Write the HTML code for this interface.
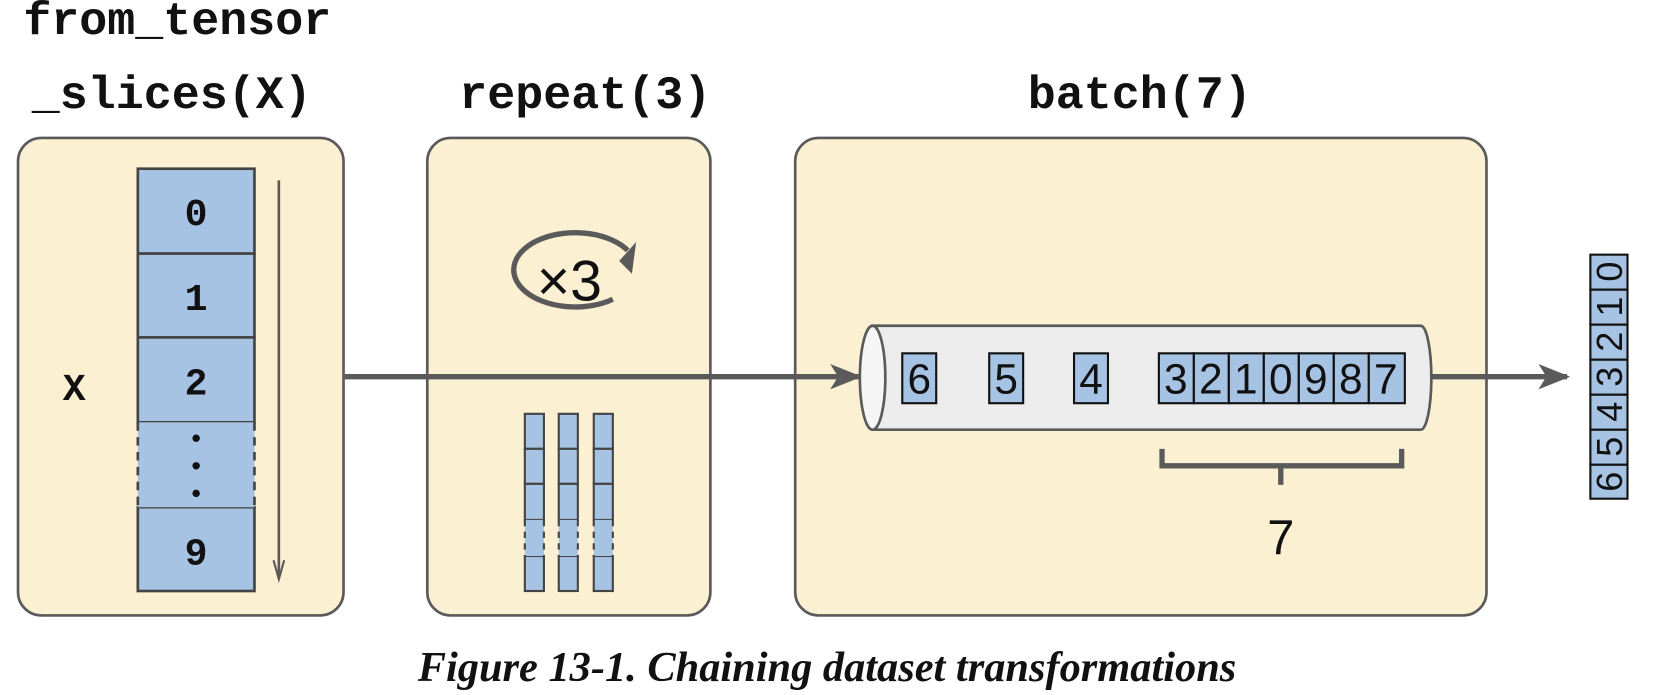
<!DOCTYPE html>
<html><head><meta charset="utf-8"><style>
html,body{margin:0;padding:0;background:#fff;}
svg{display:block}
</style></head><body>
<svg width="1654" height="695" viewBox="0 0 1560 655" preserveAspectRatio="none" xmlns="http://www.w3.org/2000/svg">
<defs>
<marker id="ah" viewBox="0 0 20 20" refX="18" refY="10" markerWidth="30" markerHeight="30" orient="auto" markerUnits="userSpaceOnUse">
<path d="M0,2 L20,10 L0,18 L5,10 Z" fill="#5a5a5a"/></marker>
</defs>
<g font-family="Liberation Mono, monospace" font-weight="bold" font-size="44" fill="#111">
<text x="22" y="32">from_tensor</text>
<text x="30" y="102">_slices(X)</text>
<text x="552" y="102" text-anchor="middle">repeat(3)</text>
<text x="1075" y="102" text-anchor="middle">batch(7)</text>
</g>
<g fill="#fcf0d2" stroke="#5a5a5a" stroke-width="2.5">
<rect x="17" y="130" width="307" height="450" rx="22"/>
<rect x="403" y="130" width="267" height="450" rx="22"/>
<rect x="750" y="130" width="652" height="450" rx="22"/>
</g>
<g stroke="#444" stroke-width="2.5" fill="#a7c3e4">
<rect x="130" y="159" width="110" height="80"/>
<rect x="130" y="239" width="110" height="79"/>
<rect x="130" y="318" width="110" height="80"/>
<rect x="130" y="478" width="110" height="79"/>
</g>
<rect x="130" y="398" width="110" height="80" fill="#a7c3e4"/>
<path d="M130,398 V478 M240,398 V478" stroke="#444" stroke-width="2.5" stroke-dasharray="8,6"/>
<g font-family="Liberation Mono, monospace" font-weight="bold" font-size="36" fill="#111" text-anchor="middle">
<text x="185" y="212">0</text><text x="185" y="292">1</text><text x="185" y="372">2</text><text x="185" y="532">9</text>
<text x="70" y="377">X</text>
</g>
<circle cx="185" cy="413" r="3.5" fill="#111"/><circle cx="185" cy="439" r="3.5" fill="#111"/><circle cx="185" cy="465" r="3.5" fill="#111"/>
<line x1="263" y1="170" x2="263" y2="545" stroke="#5a5a5a" stroke-width="2.5"/>
<path d="M258,528 L263,546 L268,528" fill="none" stroke="#5a5a5a" stroke-width="2"/>
<line x1="325" y1="355" x2="810" y2="355" stroke="#5a5a5a" stroke-width="5" marker-end="url(#ah)"/>
<path d="M592,236 A58,35 0 1 0 578,282" fill="none" stroke="#5a5a5a" stroke-width="5"/>
<path d="M584,246 L600,228 L596,258 Z" fill="#5a5a5a"/>
<text x="537" y="283" font-family="Liberation Sans, sans-serif" font-size="54" text-anchor="middle" fill="#111">×3</text>
<g stroke="#444" stroke-width="2" fill="#a7c3e4">
<rect x="495" y="390" width="18" height="33"/><rect x="495" y="423" width="18" height="33"/><rect x="495" y="456" width="18" height="34"/><rect x="495" y="524" width="18" height="33"/>
<rect x="527" y="390" width="18" height="33"/><rect x="527" y="423" width="18" height="33"/><rect x="527" y="456" width="18" height="34"/><rect x="527" y="524" width="18" height="33"/>
<rect x="560" y="390" width="18" height="33"/><rect x="560" y="423" width="18" height="33"/><rect x="560" y="456" width="18" height="34"/><rect x="560" y="524" width="18" height="33"/>
</g>
<g fill="#a7c3e4"><rect x="495" y="490" width="18" height="34"/><rect x="527" y="490" width="18" height="34"/><rect x="560" y="490" width="18" height="34"/></g>
<g stroke="#444" stroke-width="2" stroke-dasharray="6,5">
<path d="M495,490V524M513,490V524M527,490V524M545,490V524M560,490V524M578,490V524"/>
</g>
<path d="M823,307 H1340 A10,49 0 0 1 1340,405 H823 Z" fill="#ececec" stroke="#5a5a5a" stroke-width="2.5"/>
<ellipse cx="823" cy="356" rx="12" ry="49" fill="#f5f5f5" stroke="#5a5a5a" stroke-width="2.5"/>
<g stroke="#111" stroke-width="2" fill="#a7c3e4">
<rect x="851" y="333" width="32" height="47"/><rect x="933" y="333" width="32" height="47"/><rect x="1013" y="333" width="32" height="47"/>
<rect x="1093" y="333" width="33" height="47"/><rect x="1126" y="333" width="33" height="47"/><rect x="1159" y="333" width="33" height="47"/><rect x="1192" y="333" width="33" height="47"/><rect x="1225" y="333" width="33" height="47"/><rect x="1258" y="333" width="33" height="47"/><rect x="1291" y="333" width="34" height="47"/>
</g>
<g font-family="Liberation Sans, sans-serif" font-size="40" fill="#111" text-anchor="middle">
<text x="867" y="371">6</text><text x="949" y="371">5</text><text x="1029" y="371">4</text>
<text x="1109" y="371">3</text><text x="1142" y="371">2</text><text x="1175" y="371">1</text><text x="1208" y="371">0</text><text x="1241" y="371">9</text><text x="1274" y="371">8</text><text x="1307" y="371">7</text>
<text x="1208" y="522" font-size="46">7</text>
</g>
<path d="M1096,423 V439 H1322 V423 M1208,439 V457" fill="none" stroke="#5a5a5a" stroke-width="5"/>
<line x1="1350" y1="355" x2="1478" y2="355" stroke="#5a5a5a" stroke-width="5" marker-end="url(#ah)"/>
<g stroke="#111" stroke-width="2" fill="#a7c3e4">
<rect x="1500" y="240" width="35" height="33"/><rect x="1500" y="273" width="35" height="33"/><rect x="1500" y="306" width="35" height="33"/><rect x="1500" y="339" width="35" height="33"/><rect x="1500" y="372" width="35" height="33"/><rect x="1500" y="405" width="35" height="33"/><rect x="1500" y="438" width="35" height="32"/>
</g>
<g font-family="Liberation Sans, sans-serif" font-size="34" fill="#111" text-anchor="middle">
<text transform="translate(1530,256) rotate(-90)">0</text>
<text transform="translate(1530,289) rotate(-90)">1</text>
<text transform="translate(1530,322) rotate(-90)">2</text>
<text transform="translate(1530,355) rotate(-90)">3</text>
<text transform="translate(1530,388) rotate(-90)">4</text>
<text transform="translate(1530,421) rotate(-90)">5</text>
<text transform="translate(1530,454) rotate(-90)">6</text>
</g>
<text x="780" y="642" font-family="Liberation Serif, serif" font-weight="bold" font-style="italic" font-size="40" text-anchor="middle" fill="#111">Figure 13-1. Chaining dataset transformations</text>
</svg>
</body></html>
